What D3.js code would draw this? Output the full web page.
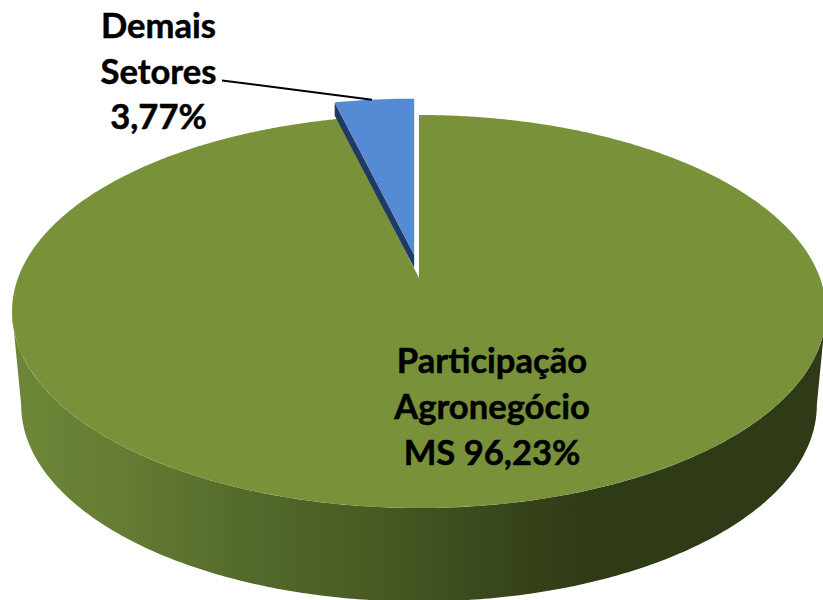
<!DOCTYPE html>
<html><head><meta charset="utf-8">
<script src="https://cdn.jsdelivr.net/npm/d3@7"></script>
<style>html,body{margin:0;padding:0;background:#fff;overflow:hidden}svg{display:block}
text{font-family:Lato,"Open Sans",sans-serif;font-weight:700;fill:#000;stroke:#000;stroke-width:0.5px}</style>
</head><body><svg id="c" width="823" height="600"></svg>
<script>
const categories = ["Participação Agronegócio MS", "Demais Setores"];
const values = [96.23, 3.77];
const labelLines = [["Participação","Agronegócio","MS 96,23%"],["Demais","Setores","3,77%"]];
const wallStops = ["#6d8737","#657b33","#546a2b","#4a5c24","#3b4a1d","#2f3a16","#2f3a17","#2f3a17"];

const svg = d3.select("#c");
const k = 0.1705;
// perspective disc: maps a pie angle onto the tilted ellipse
const disc = (cx, cy, b, a) => t => {
  const u = Math.sin(t), v = Math.cos(t), w = 1 + k * v;
  return [cx + b * u / w, cy - a * v / w];
};
const topApex = [419, 278], baseApex = [419, 371.5];
const blueApex = [414.2, 255], blueBaseApex = [414.2, 268];
const topDisc = disc(topApex[0], topApex[1], 401, 190.8);
const baseDisc = disc(baseApex[0], baseApex[1], 392, 190.8);
const blueDisc = disc(blueApex[0], blueApex[1], 395, 183);
const blueBase = disc(blueBaseApex[0], blueBaseApex[1], 395, 183);

const arcs = d3.pie().sort(null).value(d => d)(values);
const line = d3.line();
const sample = (a, b, step = 0.01) => d3.range(a, b, step).concat([b]);

const defs = svg.append("defs");
const xG = d3.scaleLinear().domain([0, wallStops.length - 1]).range([0, 100]);
const grad = defs.append("linearGradient").attr("id", "wall")
  .attr("gradientUnits", "userSpaceOnUse").attr("x1", 12).attr("x2", 823).attr("y1", 0).attr("y2", 0);
wallStops.forEach((c, i) => grad.append("stop").attr("offset", xG(i) + "%").attr("stop-color", c));

// side wall
const tan = Math.acos(-k);
const front = sample(tan, 2 * Math.PI - tan);
svg.append("path").attr("fill", "url(#wall)")
  .attr("d", line(front.map(topDisc).concat(front.slice().reverse().map(baseDisc))) + "Z");

// top of the large slice
const g = arcs[0];
svg.append("path").attr("fill", "#79923a")
  .attr("d", line([topApex].concat(sample(g.startAngle, g.endAngle).map(topDisc))) + "Z");

// exploded small slice: dark cut face, then face
const s = arcs[1];
svg.append("path").attr("fill", "#203a66")
  .attr("d", line([blueDisc(s.startAngle), blueBase(s.startAngle), blueBaseApex, blueApex]) + "Z");
svg.append("path").attr("fill", "#558ad4")
  .attr("d", line([blueApex].concat(sample(s.startAngle, s.endAngle).map(blueDisc))) + "Z");

// leader line
svg.append("path").attr("fill", "none").attr("stroke", "#000").attr("stroke-width", 2)
  .attr("d", line([[222, 80.5], blueDisc(s.startAngle + (s.endAngle - s.startAngle) * 0.47)]));

// labels
const fs = 34.6;
const labelPos = [[492, 373, 46], [158.5, 38, 45.5]];
labelLines.forEach((ls, i) => {
  ls.forEach((t, j) => svg.append("text").attr("x", labelPos[i][0]).attr("y", labelPos[i][1] + j * labelPos[i][2])
    .attr("text-anchor", "middle").attr("font-size", fs).text(t));
});
</script></body></html>
